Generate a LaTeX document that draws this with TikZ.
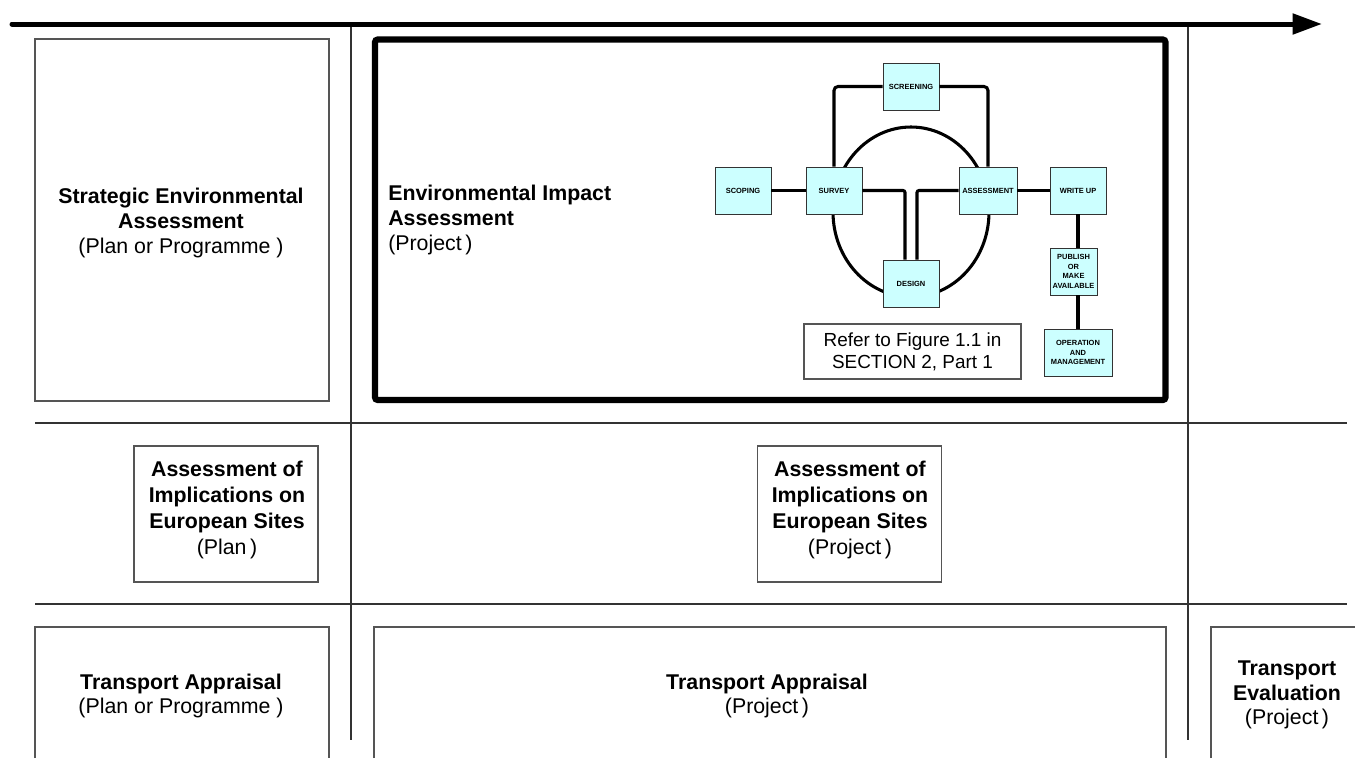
\documentclass[tikz,border=0pt]{standalone}
\usepackage{fontspec}
\setmainfont{Liberation Sans}
\usetikzlibrary{arrows.meta,calc}
\definecolor{stepfill}{HTML}{CCFFFF}
\definecolor{framegray}{HTML}{555555}
\begin{document}
\begin{tikzpicture}[x=0.75pt,y=-0.75pt,
  bigtext/.style={font=\fontsize{16}{18.5}\selectfont, align=center, inner sep=0pt},
  framebox/.style={draw=framegray, line width=0.9pt, inner sep=0pt},
  gridline/.style={draw=black!80, line width=0.8pt},
  stepnode/.style={draw=black!80, line width=0.6pt, fill=stepfill, inner sep=0pt,
    minimum width=42pt, minimum height=35.25pt, align=center,
    font=\fontsize{5.6}{7.3}\selectfont\bfseries},
  link/.style={line width=2.3pt}]
\useasboundingbox (0,0) rectangle (1355,758);

% time arrow
\coordinate (tstart) at (12,24);
\coordinate (tend) at (1322,24);

% grid lines
\coordinate (v1t) at (351,24);  \coordinate (v1b) at (351,740);
\coordinate (v2t) at (1188,24); \coordinate (v2b) at (1188,740);
\coordinate (h1l) at (35,423);  \coordinate (h1r) at (1347,423);
\coordinate (h2l) at (35,604);  \coordinate (h2r) at (1347,604);
\draw[gridline] (v1t) -- (v1b);
\draw[gridline] (v2t) -- (v2b);
\draw[gridline] (h1l) -- (h1r);
\draw[gridline] (h2l) -- (h2r);

\draw[line width=3.75pt, line cap=round, -{Triangle[length=22pt,width=15pt]}] (tstart) -- (tend);

% row 1
\node[framebox, minimum width=220.5pt, minimum height=271.5pt] (seabox) at (182,220) {};
\node[bigtext] (sea) at (181,223)
  {\textbf{Strategic Environmental}\\\textbf{Assessment}\\(Plan or Programme )};

\draw[line width=4.6pt, rounded corners=2pt] (375,39.5) rectangle (1165.5,400);
\node[bigtext, align=left, anchor=west] (eia) at (388,220)
  {\textbf{Environmental Impact}\\\textbf{Assessment}\\(Project\,)};

% flow diagram
\draw[link] (911,212) ellipse [x radius=78, y radius=85];
\node[stepnode] (screening) at (911,86.5) {SCREENING};
\node[stepnode] (scoping) at (743,190.5) {SCOPING};
\node[stepnode] (survey) at (834,190.5) {SURVEY};
\node[stepnode, minimum width=43.5pt] (assess) at (988,190.5) {ASSESSMENT};
\node[stepnode] (writeup) at (1078,190.5) {WRITE UP};
\node[stepnode] (design) at (911,283.5) {DESIGN};
\node[stepnode, minimum width=35.25pt] (publish) at (1073.5,271.5) {PUBLISH\\OR\\MAKE\\AVAILABLE};
\node[stepnode, minimum width=51pt] (operation) at (1078,352.5) {OPERATION\\AND\\MANAGEMENT};

\draw[link, rounded corners=3pt] (survey.north) |- (screening.west);
\draw[link, rounded corners=3pt] (screening.east) -| (assess.north);
\draw[link] (scoping) -- (survey);
\draw[link] (assess) -- (writeup);
\draw[link, rounded corners=1.5pt] (survey.east) -| ($(design.north)+(-6,0)$);
\draw[link, rounded corners=1.5pt] (assess.west) -| ($(design.north)+(6,0)$);
\draw[link] (writeup.south) -- (writeup.south |- publish.north);
\draw[link] (writeup.south |- publish.south) -- (operation.north);

\node[framebox, font=\fontsize{14.2}{16.5}\selectfont, align=center,
  minimum width=162.75pt, minimum height=41.25pt] (refer) at (912.5,351.5)
  {Refer to Figure 1.1 in\\SECTION 2, Part 1};

% row 2
\node[framebox, minimum width=138pt, minimum height=102pt] (aiesplanbox) at (226,514) {};
\node[bigtext, font=\fontsize{16}{19.5}\selectfont] (aiesplan) at (227,510)
  {\textbf{Assessment of}\\\textbf{Implications on}\\\textbf{European Sites}\\(Plan\,)};
\node[framebox, minimum width=138pt, minimum height=102pt] (aiesprojbox) at (849.5,514) {};
\node[bigtext, font=\fontsize{16}{19.5}\selectfont] (aiesproj) at (850,510)
  {\textbf{Assessment of}\\\textbf{Implications on}\\\textbf{European Sites}\\(Project\,)};

% row 3
\draw[framebox] (35,758) -- (35,627) -- (329,627) -- (329,758);
\draw[framebox] (374,758) -- (374,627) -- (1166,627) -- (1166,758);
\draw[framebox] (1211,758) -- (1211,627) -- (1355,627);
\node[bigtext] (taplan) at (181,696)
  {\textbf{Transport Appraisal}\\(Plan or Programme )};
\node[bigtext] (taproj) at (767,696)
  {\textbf{Transport Appraisal}\\(Project\,)};
\node[bigtext] (teproj) at (1287,695)
  {\textbf{Transport}\\\textbf{Evaluation}\\(Project\,)};
\end{tikzpicture}
\end{document}
